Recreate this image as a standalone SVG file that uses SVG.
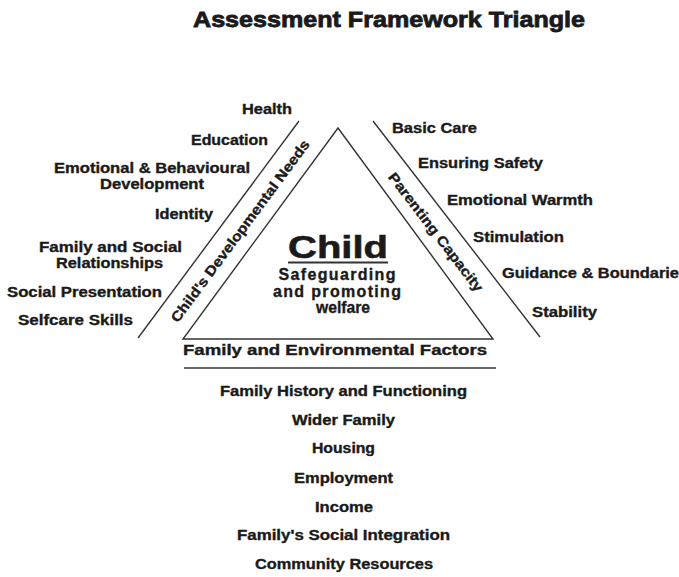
<svg xmlns="http://www.w3.org/2000/svg" width="679" height="577" viewBox="0 0 679 577">
<style>
text{font-family:"Liberation Sans",Arial,sans-serif;font-weight:bold;fill:#1a1a1a;stroke:#1a1a1a;stroke-width:0.35}
.l{font-size:14px}
.m{text-anchor:middle}
.ln{stroke:#333;stroke-width:1.4;fill:none}
</style>
<rect width="679" height="577" fill="#fff"/>
<text id="title" x="193" y="27" font-size="22" style="stroke-width:0.8" textLength="392" lengthAdjust="spacingAndGlyphs">Assessment Framework Triangle</text>
<g id="connectors">
<line class="ln" x1="299" y1="121" x2="138" y2="338"/>
<line class="ln" x1="373" y1="121" x2="540" y2="337"/>
<polygon class="ln" points="338,128 493,339 183,339"/>
<line class="ln" x1="184" y1="368" x2="496" y2="368"/>
</g>
<g id="child">
<text x="288" y="258" font-size="32" style="stroke-width:0.6" textLength="100" lengthAdjust="spacingAndGlyphs">Child</text>
<line x1="288" y1="262.5" x2="388" y2="262.5" stroke="#333" stroke-width="2"/>
<text class="m" x="337" y="280" font-size="16" textLength="117" lengthAdjust="spacing">Safeguarding</text>
<text class="m" x="337" y="297" font-size="16" textLength="128" lengthAdjust="spacing">and promoting</text>
<text class="m" x="343" y="313" font-size="16" textLength="54" lengthAdjust="spacingAndGlyphs">welfare</text>
</g>
<g id="childs-needs">
<text class="l m" transform="translate(240,231) rotate(-53.5)" y="5" textLength="223" lengthAdjust="spacingAndGlyphs">Child's Developmental Needs</text>
<text class="l" x="242" y="114" textLength="50" lengthAdjust="spacingAndGlyphs">Health</text>
<text class="l" x="191" y="145" textLength="77" lengthAdjust="spacingAndGlyphs">Education</text>
<text class="l" x="54" y="173" textLength="196" lengthAdjust="spacingAndGlyphs">Emotional &amp; Behavioural</text>
<text class="l" x="100" y="189" textLength="104" lengthAdjust="spacingAndGlyphs">Development</text>
<text class="l" x="155" y="219" textLength="58" lengthAdjust="spacingAndGlyphs">Identity</text>
<text class="l" x="39" y="252" textLength="143" lengthAdjust="spacingAndGlyphs">Family and Social</text>
<text class="l" x="56" y="268" textLength="107" lengthAdjust="spacingAndGlyphs">Relationships</text>
<text class="l" x="7" y="297" textLength="155" lengthAdjust="spacingAndGlyphs">Social Presentation</text>
<text class="l" x="18" y="325" textLength="115" lengthAdjust="spacingAndGlyphs">Selfcare Skills</text>
</g>
<g id="parenting">
<text class="l m" transform="translate(436,232) rotate(52.5)" y="5" textLength="146" lengthAdjust="spacingAndGlyphs">Parenting Capacity</text>
<text class="l" x="392" y="133" textLength="85" lengthAdjust="spacingAndGlyphs">Basic Care</text>
<text class="l" x="418" y="168" textLength="125" lengthAdjust="spacingAndGlyphs">Ensuring Safety</text>
<text class="l" x="447" y="205" textLength="146" lengthAdjust="spacingAndGlyphs">Emotional Warmth</text>
<text class="l" x="473" y="242" textLength="91" lengthAdjust="spacingAndGlyphs">Stimulation</text>
<text class="l" x="502" y="278" textLength="177" lengthAdjust="spacingAndGlyphs">Guidance &amp; Boundarie</text>
<text class="l" x="532" y="317" textLength="65" lengthAdjust="spacingAndGlyphs">Stability</text>
</g>
<g id="family">
<text class="l" x="183" y="355" textLength="304" lengthAdjust="spacingAndGlyphs">Family and Environmental Factors</text>
<text class="l" x="220" y="396" textLength="247" lengthAdjust="spacingAndGlyphs">Family History and Functioning</text>
<text class="l" x="292" y="425" textLength="103" lengthAdjust="spacingAndGlyphs">Wider Family</text>
<text class="l" x="312" y="453" textLength="63" lengthAdjust="spacingAndGlyphs">Housing</text>
<text class="l" x="294" y="483" textLength="99" lengthAdjust="spacingAndGlyphs">Employment</text>
<text class="l" x="315" y="512" textLength="58" lengthAdjust="spacingAndGlyphs">Income</text>
<text class="l" x="237" y="540" textLength="213" lengthAdjust="spacingAndGlyphs">Family's Social Integration</text>
<text class="l" x="255" y="569" textLength="178" lengthAdjust="spacingAndGlyphs">Community Resources</text>
</g>
</svg>
